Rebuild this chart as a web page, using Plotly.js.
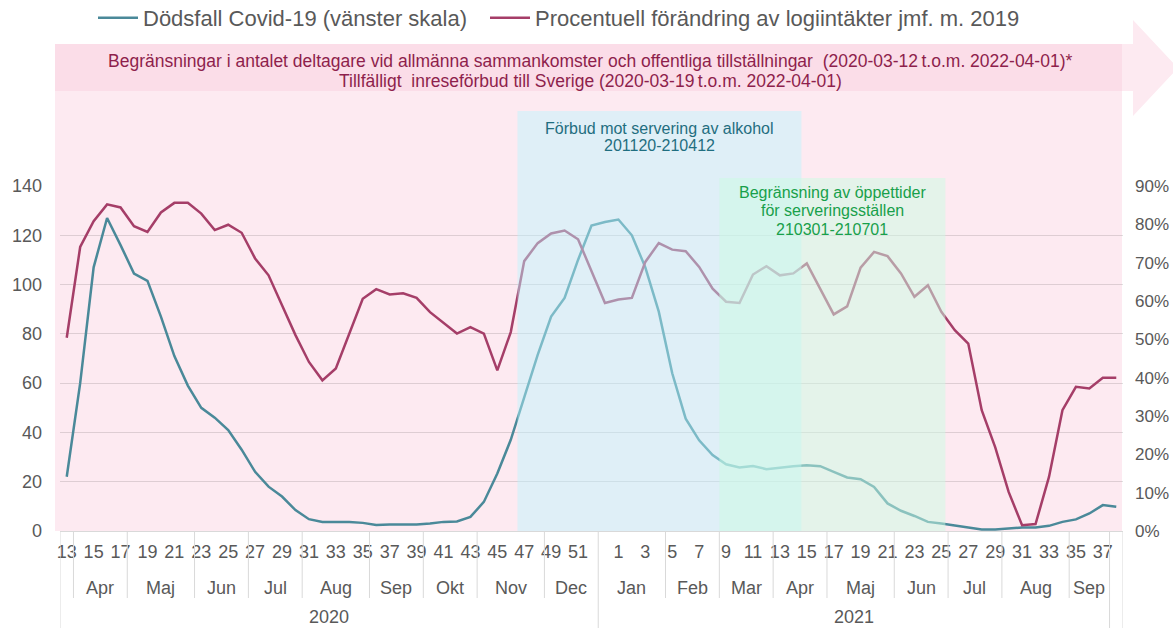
<!DOCTYPE html>
<html><head><meta charset="utf-8">
<script src="https://cdn.plot.ly/plotly-3.0.1.min.js"></script>
<style>html,body{margin:0;padding:0;background:#fff}#chart{width:1173px;height:628px}</style>
</head><body><div id="chart"></div>
<script>
// ---- data ----
const weeks = [13,14,15,16,17,18,19,20,21,22,23,24,25,26,27,28,29,30,31,32,33,34,35,36,37,38,39,40,41,42,43,44,45,46,47,48,49,50,51,52,53,
               1,2,3,4,5,6,7,8,9,10,11,12,13,14,15,16,17,18,19,20,21,22,23,24,25,26,27,28,29,30,31,32,33,34,35,36,37,38];
const monthNames = ["","Apr","Maj","Jun","Jul","Aug","Sep","Okt","Nov","Dec","Jan","Feb","Mar","Apr","Maj","Jun","Jul","Aug","Sep",""];
const monthWeeks = [1,4,5,4,4,5,4,4,5,4,5,4,4,4,5,4,4,5,3,1];
const yearNames = ["2020","2021",""];
const yearWeeks = [40,38,1];
const deaths = [22,60,107,127,116,104.5,101.5,87,71,59,50,46,41,33,24,18,14,8.5,4.8,3.7,3.7,3.7,3.3,2.4,2.6,2.6,2.6,3.0,3.7,3.9,5.7,11.8,23.3,37,54,71.5,87,94.6,110,124,125.4,
                126.4,120,107,89,64,45.6,36.8,30.8,27.1,25.8,26.4,25.1,25.8,26.3,26.7,26.3,24,21.7,21,17.9,11.2,8.2,6.1,3.7,3.0,2.1,1.3,0.6,0.6,1.0,1.4,1.4,2.1,3.7,4.7,7.1,10.5,9.8];
const lodging = [50.4,74.1,80.8,85.2,84.4,79.5,78.0,83.1,85.6,85.6,82.8,78.5,79.9,77.8,71.1,66.7,58.9,51.1,44.1,39.3,42.4,51.5,60.6,63.1,61.7,62.0,60.8,57.1,54.4,51.5,53.2,51.5,41.9,51.9,70.4,75.1,77.6,78.4,76.1,68.0,59.5,
                 60.4,60.8,70.2,75.1,73.4,73.0,68.9,63.2,59.8,59.5,66.9,69.1,66.7,67.2,69.8,63.1,56.5,58.6,68.7,72.8,71.7,67.2,61.1,64.1,57.2,52.4,48.9,31.5,21.9,10.2,1.5,1.8,14.1,31.5,37.6,37.2,40.0,40.0];
const seriesNames = ["Dödsfall Covid-19 (vänster skala)","Procentuell förändring av logiintäkter jmf. m. 2019"];
const bandLines = ["Begränsningar i antalet deltagare vid allmänna sammankomster och offentliga tillställningar\u00a0 (2020-03-12\u2009t.o.m. 2022-04-01)*",
                   "Tillfälligt\u00a0 inreseförbud till Sverige (2020-03-19\u2009t.o.m. 2022-04-01)"];
const alcoholLines = ["Förbud mot servering av alkohol","201120-210412"];
const hoursLines = ["Begränsning av öppettider","för serveringsställen","210301-210701"];
const alcoholSpan = [33.5, 54.6];
const hoursSpan = [48.5, 65.3];

// ---- geometry helpers ----
const W = 1173, H = 628;
const M = {l:60, r:50, t:186, b:97, autoexpand:false};
const PW = W - M.l - M.r, PH = H - M.t - M.b;
const px = x => (x - M.l) / PW;
const py = y => (H - M.b - y) / PH;

const idx = weeks.map((_, i) => i);
const tickvals = [], ticktext = [];
weeks.forEach((w, i) => { if (w % 2 === 1 && w !== 53) { tickvals.push(i); ticktext.push(String(w)); } });

const font = "Liberation Sans, Arial, sans-serif";
const grey = "#595959";
const divColor = "#d9d9d9";

const shapes = [];
const annotations = [];

// background pink area and arrow
shapes.push({type:"rect", xref:"paper", yref:"paper", x0:px(55), x1:px(1122), y0:py(531), y1:py(44),
  fillcolor:"#fdeaf1", line:{width:0}, layer:"below"});
shapes.push({type:"path", xref:"paper", yref:"paper",
  path:`M ${px(55)},${py(44)} L ${px(1133)},${py(44)} L ${px(1133)},${py(20)} L ${px(1178)},${py(68)} L ${px(1133)},${py(116)} L ${px(1133)},${py(91)} L ${px(55)},${py(91)} Z`,
  fillcolor:"#fdeaf1", line:{width:0}, layer:"below"});
shapes.push({type:"rect", xref:"paper", yref:"paper", x0:px(55), x1:px(1122), y0:py(91), y1:py(44),
  fillcolor:"#fbdde8", line:{width:0}, layer:"below"});

// overlays
shapes.push({type:"rect", xref:"x", yref:"paper", x0:alcoholSpan[0], x1:alcoholSpan[1], y0:0, y1:py(111),
  fillcolor:"rgba(186,247,254,0.45)", line:{width:0}, layer:"above"});
shapes.push({type:"rect", xref:"x", yref:"paper", x0:hoursSpan[0], x1:hoursSpan[1], y0:0, y1:py(178),
  fillcolor:"rgba(203,252,227,0.5)", line:{width:0}, layer:"above"});

// category dividers and group labels
let start = 0;
monthWeeks.forEach((n, k) => {
  const c = start + (n - 1) / 2;
  if (monthNames[k]) annotations.push({x:c, xref:"x", y:py(588), yref:"paper", text:monthNames[k], showarrow:false,
    font:{family:font, size:18, color:grey}, yanchor:"middle"});
  start += n;
});
const yearBounds = new Set();
start = 0;
yearBounds.add(0);
yearWeeks.forEach((n, k) => {
  const c = start + (n - 1) / 2;
  if (yearNames[k]) annotations.push({x:c, xref:"x", y:py(617), yref:"paper", text:yearNames[k], showarrow:false,
    font:{family:font, size:18, color:grey}, yanchor:"middle", borderpad:0});
  start += n;
  yearBounds.add(start);
});
start = 0;
const monthBounds = [0];
monthWeeks.forEach(n => { start += n; monthBounds.push(start); });
monthBounds.forEach(b => {
  const isYear = yearBounds.has(b);
  shapes.push({type:"line", xref:"x", yref:"paper", x0:b - 0.5, x1:b - 0.5, y0:0, y1:isYear ? py(640) : py(598),
    line:{color:divColor, width:1}, layer:"above"});
});

// text annotations
bandLines.forEach((t, k) => annotations.push({x:px(590), xref:"paper", y:py(61 + 20*k), yref:"paper", text:t, showarrow:false,
  font:{family:font, size:17.5, color:"#8e1f4c"}, yanchor:"middle", xanchor:"center"}));
alcoholLines.forEach((t, k) => annotations.push({x:(alcoholSpan[0]+alcoholSpan[1])/2, xref:"x", y:py(128 + 18*k), yref:"paper", text:t, showarrow:false,
  font:{family:font, size:16, color:"#1f6e80"}, yanchor:"middle", xanchor:"center"}));
hoursLines.forEach((t, k) => annotations.push({x:(hoursSpan[0]+hoursSpan[1])/2, xref:"x", y:py(192 + 18.5*k), yref:"paper", text:t, showarrow:false,
  font:{family:font, size:16, color:"#18a04a"}, yanchor:"middle", xanchor:"center"}));

const traces = [
  {x:idx, y:deaths, name:seriesNames[0], type:"scatter", mode:"lines", yaxis:"y", legend:"legend",
   line:{color:"#4a8999", width:2.5}, hoverinfo:"skip"},
  {x:idx, y:lodging, name:seriesNames[1], type:"scatter", mode:"lines", yaxis:"y2", legend:"legend2",
   line:{color:"#a53e68", width:2.5}, hoverinfo:"skip"}
];

const legendBase = {orientation:"h", xanchor:"left", y:py(-3), yanchor:"top", font:{size:22, color:grey},
  bgcolor:"rgba(0,0,0,0)", itemwidth:40};

const layout = {
  width:W, height:H, margin:M, paper_bgcolor:"#fff", plot_bgcolor:"rgba(0,0,0,0)",
  font:{family:font, color:grey, size:18},
  showlegend:true,
  legend:Object.assign({}, legendBase, {x:px(93)}),
  legend2:Object.assign({}, legendBase, {x:px(485)}),
  xaxis:{range:[-0.5, 78.5], tickmode:"array", tickvals:tickvals, ticktext:ticktext, showgrid:false, zeroline:false,
    showline:true, linecolor:divColor, linewidth:1, ticks:"", ticklabelstandoff:4, tickfont:{size:18, color:grey}, fixedrange:true},
  yaxis:{range:[0,140], dtick:20, tick0:0, showgrid:true, gridcolor:"rgba(0,0,0,0.12)", zeroline:false, showline:false,
    ticks:"", ticklabelstandoff:17, tickfont:{size:18, color:grey}, fixedrange:true},
  yaxis2:{range:[0,90], dtick:10, tick0:0, overlaying:"y", side:"right", ticksuffix:"%", showgrid:false, zeroline:false,
    showline:false, ticks:"", ticklabelstandoff:11, tickfont:{size:17, color:grey}, fixedrange:true},
  shapes:shapes, annotations:annotations
};
Plotly.newPlot("chart", traces, layout, {staticPlot:true, displayModeBar:false});
</script></body></html>
